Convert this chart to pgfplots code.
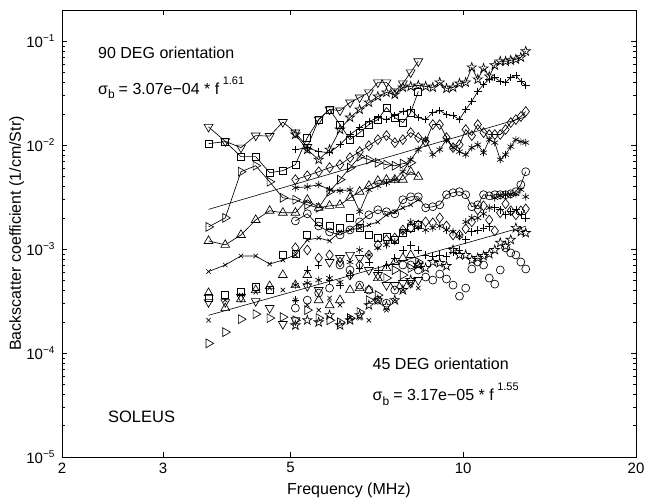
\documentclass[border=0pt]{standalone}
\usepackage{fontspec}
\setmainfont{Liberation Sans}
\usepackage{pgfplots}
\pgfplotsset{compat=1.18}
\usetikzlibrary{plotmarks}
\pgfdeclareplotmark{pentagram}{%
 \pgfpathmoveto{\pgfpointpolar{90}{\pgfplotmarksize}}%
 \pgfpathlineto{\pgfpointpolar{126}{0.382\pgfplotmarksize}}%
 \pgfpathlineto{\pgfpointpolar{162}{\pgfplotmarksize}}%
 \pgfpathlineto{\pgfpointpolar{198}{0.382\pgfplotmarksize}}%
 \pgfpathlineto{\pgfpointpolar{234}{\pgfplotmarksize}}%
 \pgfpathlineto{\pgfpointpolar{270}{0.382\pgfplotmarksize}}%
 \pgfpathlineto{\pgfpointpolar{306}{\pgfplotmarksize}}%
 \pgfpathlineto{\pgfpointpolar{342}{0.382\pgfplotmarksize}}%
 \pgfpathlineto{\pgfpointpolar{18}{\pgfplotmarksize}}%
 \pgfpathlineto{\pgfpointpolar{54}{0.382\pgfplotmarksize}}%
 \pgfpathclose
 \pgfusepathqstroke}
\newcommand\tenexp[1]{10\raisebox{6pt}{\fontsize{10}{10}\selectfont −#1}}
\pgfplotsset{
 U/.style={black, line width=0.65pt, solid},
 L/.style={black, only marks, line width=0.65pt},
 mDn/.style={mark=triangle, mark size=5.1pt, mark options={solid, rotate=180}},
 mUp/.style={mark=triangle, mark size=5.1pt, mark options={solid}},
 mRt/.style={mark=triangle, mark size=5.1pt, mark options={solid, rotate=-90}},
 mSq/.style={mark=square, mark size=3.5pt, mark options={solid}},
 mDi/.style={mark=diamond, mark size=4.9pt, mark options={solid}},
 mCi/.style={mark=o, mark size=4pt, mark options={solid}},
 mX/.style={mark=x, mark size=3.1pt, mark options={solid}},
 mPl/.style={mark=+, mark size=3.8pt, mark options={solid}},
 mAs/.style={mark=asterisk, mark size=3.8pt, mark options={solid}},
 mSt/.style={mark=pentagram, mark size=4.9pt, mark options={solid}},
}
\begin{document}
\begin{tikzpicture}
\useasboundingbox (-62pt,-45pt) rectangle (583pt,457pt);
\begin{axis}[
 at={(0,0)}, anchor=south west, scale only axis, width=574pt, height=447pt,
 xmode=log, ymode=log, xmin=2, xmax=20, ymin=1e-5, ymax=0.2,
 xtick={2,3,5,10,20}, xticklabels={2,3,5,10,20},
 ytick={1e-5,1e-4,1e-3,1e-2,1e-1},
 yticklabels={\tenexp{5},\tenexp{4},\tenexp{3},\tenexp{2},\tenexp{1}},
 tick align=inside, major tick length=5pt, minor tick length=3pt,
 minor x tick style={draw=none},
 axis line style={line width=0.7pt},
 every tick/.style={black, line width=0.5pt},
 tick label style={font=\fontsize{15}{17}\selectfont},
 xticklabel style={yshift=-2pt}, yticklabel style={xshift=-4pt},
 xlabel={Frequency (MHz)}, ylabel={Backscatter coefficient (1/cm/Str)},
 label style={font=\fontsize{16}{19}\selectfont},
 xlabel style={at={(axis description cs:0.5,-0.0738)}, anchor=center},
 ylabel style={at={(axis description cs:-0.079,0.5)}, anchor=center},
]
% ---------------- 90 DEG group (connected) ----------------
\addplot[U, mDn] coordinates {(3.6,0.0150) (3.85,0.0109) (4.1,0.00948) (4.35,0.01238) (4.6,0.01224) (4.85,0.01671) (5.1,0.01323) (5.35,0.00959) (5.6,0.01766) (5.85,0.02206) (6.1,0.02157) (6.35,0.02577) (6.6,0.0288) (6.85,0.0322) (7.1,0.0402) (7.35,0.0402) (7.6,0.0329) (7.85,0.0393) (8.1,0.0502) (8.35,0.0641)};
\addplot[U, mSq] coordinates {(3.6,0.01036) (3.85,0.01083) (4.1,0.00776) (4.35,0.00776) (4.6,0.00544) (4.85,0.00569) (5.1,0.0065) (5.35,0.01184) (5.6,0.01766) (5.85,0.02206) (6.1,0.0158) (6.35,0.01132) (6.6,0.01323) (6.85,0.0158) (7.1,0.01766) (7.35,0.02306) (7.6,0.01846) (7.85,0.01652) (8.1,0.02064) (8.35,0.0329)};
\addplot[U, mRt] coordinates {(3.6,0.001637) (3.85,0.0020) (4.1,0.00556) (4.35,0.00635) (4.6,0.00445) (4.85,0.00312) (5.1,0.00299) (5.35,0.00267) (5.6,0.0025) (5.85,0.00357) (6.1,0.00466) (6.35,0.00608) (6.6,0.00776) (6.85,0.00726) (7.1,0.00679) (7.35,0.0065) (7.6,0.00635) (7.85,0.00664) (8.1,0.00679)};
\addplot[U, mUp] coordinates {(3.6,0.0012) (3.85,0.0011) (4.1,0.00137) (4.35,0.00191) (4.6,0.00234) (4.85,0.00224) (5.1,0.00224) (5.35,0.00299) (5.6,0.0025) (5.85,0.00261) (6.1,0.00267) (6.35,0.00312) (6.6,0.00357) (6.85,0.00407) (7.1,0.00455) (7.35,0.00466) (7.6,0.00466) (7.85,0.00466) (8.1,0.00556) (8.35,0.00498)};
\addplot[U, mX] coordinates {(3.6,0.000609) (3.85,0.000704) (4.1,0.00086) (4.35,0.00086) (4.6,0.000719) (4.85,0.000786) (5.1,0.000879) (5.35,0.001227) (5.6,0.001282) (5.85,0.0012) (6.1,0.001465) (6.35,0.001531) (6.6,0.0016) (6.85,0.00171) (7.1,0.00183) (7.35,0.00214) (7.6,0.00229) (7.85,0.0025) (8.1,0.00267) (8.35,0.00299)};
\addplot[U, mCi] coordinates {(5.1,0.00187) (5.35,0.00219) (5.6,0.00167) (5.85,0.001465) (6.1,0.00137) (6.35,0.00153) (6.6,0.00183) (6.85,0.00214) (7.1,0.00239) (7.35,0.00229) (7.6,0.00219) (7.85,0.00299) (8.1,0.00319) (8.35,0.00319) (8.6,0.0025) (8.85,0.00256) (9.1,0.00267) (9.35,0.00334) (9.6,0.00349) (9.85,0.00357) (10.1,0.00334) (10.35,0.00256) (10.6,0.00267) (10.85,0.00334) (11.1,0.00326) (11.35,0.00334) (11.6,0.00334) (11.85,0.00334) (12.1,0.00341) (12.35,0.00357) (12.6,0.00417) (12.85,0.00556)};
\addplot[U, mDi] coordinates {(5.1,0.00466) (5.35,0.00509) (5.6,0.00556) (5.85,0.00608) (6.1,0.0065) (6.35,0.00759) (6.6,0.00867) (6.85,0.00991) (7.1,0.01132) (7.35,0.01238) (7.6,0.01059) (7.85,0.01132) (8.1,0.01323) (8.35,0.01184) (8.6,0.01083) (8.85,0.0158) (9.1,0.0158) (9.35,0.01184) (9.6,0.00948) (9.85,0.01013) (10.1,0.01414) (10.35,0.01238) (10.6,0.0158) (10.85,0.01323) (11.1,0.01266) (11.35,0.01266) (11.6,0.01266) (11.85,0.01414) (12.1,0.01652) (12.35,0.01766) (12.6,0.01888) (12.85,0.0211)};
\addplot[U, mSt] coordinates {(5.1,0.01266) (5.35,0.00907) (5.6,0.00726) (5.85,0.00907) (6.1,0.01414) (6.35,0.01846) (6.6,0.02206) (6.85,0.02577) (7.1,0.02945) (7.35,0.0322) (7.6,0.03079) (7.85,0.03597) (8.1,0.03678) (8.35,0.03761) (8.6,0.03678) (8.85,0.03597) (9.1,0.0402) (9.35,0.03518) (9.6,0.03597) (9.85,0.0393) (10.1,0.0402) (10.35,0.0561) (10.6,0.043) (10.85,0.0549) (11.1,0.0459) (11.35,0.0587) (11.6,0.0641) (11.85,0.0641) (12.1,0.0656) (12.35,0.067) (12.6,0.0701) (12.85,0.0801)};
\addplot[U, mPl] coordinates {(5.1,0.00907) (5.35,0.00948) (5.6,0.00867) (5.85,0.00848) (6.1,0.01013) (6.35,0.01266) (6.6,0.01478) (6.85,0.0169) (7.1,0.01846) (7.35,0.01766) (7.6,0.01931) (7.85,0.0211) (8.1,0.02206) (8.35,0.01846) (8.6,0.01766) (8.85,0.02064) (9.1,0.02157) (9.35,0.01974) (9.6,0.01931) (9.85,0.01766) (10.1,0.02206) (10.35,0.02635) (10.6,0.0329) (10.85,0.03846) (11.1,0.043) (11.35,0.0449) (11.6,0.0411) (11.85,0.0402) (12.1,0.0449) (12.35,0.047) (12.6,0.0411) (12.85,0.03761)};
\addplot[U, mAs] coordinates {(5.1,0.0039) (5.35,0.00398) (5.6,0.00417) (5.85,0.00373) (6.1,0.00365) (6.35,0.00373) (6.6,0.00229) (6.85,0.00373) (7.1,0.00407) (7.35,0.00435) (7.6,0.00466) (7.85,0.00556) (8.1,0.00726) (8.35,0.00907) (8.6,0.01132) (8.85,0.00812) (9.1,0.00907) (9.35,0.01132) (9.6,0.00948) (9.85,0.00867) (10.1,0.00812) (10.35,0.00948) (10.6,0.01013) (10.85,0.00848) (11.1,0.01132) (11.35,0.01059) (11.6,0.00726) (11.85,0.00812) (12.1,0.00969) (12.35,0.01132) (12.6,0.01083) (12.85,0.01059)};
% ---------------- 45 DEG group (markers) ----------------
\addplot[L, mDn] coordinates {(3.6,3.09e-4) (3.85,3.09e-4) (4.1,3.46e-4) (4.35,3.16e-4) (4.6,2.71e-4) (4.85,1.90e-4) (5.1,2.07e-4) (5.35,4.4e-4) (5.6,4.04e-4) (5.85,7.52e-4) (6.1,8.22e-4) (6.35,8.79e-4) (6.6,8.22e-4) (6.85,6.30e-4) (7.1,5.64e-4) (7.35,4.51e-4) (7.6,4.51e-4) (7.85,4.72e-4) (8.1,4.72e-4) (8.35,5.04e-4)};
\addplot[L, mSq] coordinates {(3.6,3.38e-4) (3.85,3.61e-4) (4.1,3.86e-4) (4.35,4.32e-4) (4.6,4.04e-4) (4.85,8.79e-4) (5.1,8.99e-4) (5.35,1.37e-3) (5.6,1.83e-3) (5.85,1.67e-3) (6.1,1.60e-3) (6.35,2.0e-3) (6.6,1.60e-3) (6.85,1.37e-3) (7.1,1.28e-3) (7.35,1.31e-3) (7.6,1.23e-3) (7.85,1.43e-3) (8.1,1.60e-3) (8.35,1.71e-3)};
\addplot[L, mRt] coordinates {(3.6,1.24e-4) (3.85,1.59e-4) (4.1,2.12e-4) (4.35,2.37e-4) (4.6,2.17e-4) (4.85,2.22e-4) (5.1,2.07e-4) (5.35,2.59e-4) (5.6,2.17e-4) (5.85,2.07e-4) (6.1,1.98e-4) (6.35,2.17e-4) (6.6,2.48e-4) (6.85,3.23e-4) (7.1,3.61e-4) (7.35,5.27e-4) (7.6,6.30e-4) (7.85,5.64e-4) (8.1,6.58e-4) (8.35,7.52e-4)};
\addplot[L, mUp] coordinates {(3.6,3.78e-4) (3.85,2.71e-4) (4.1,3.30e-4) (4.35,4.04e-4) (4.6,4.41e-4) (4.85,5.64e-4) (5.1,4.51e-4) (5.35,5.64e-4) (5.6,3.23e-4) (5.85,2.89e-4) (6.1,3.23e-4) (6.35,4.04e-4) (6.6,4.22e-4) (6.85,4.04e-4) (7.1,5.27e-4) (7.35,6.58e-4) (7.6,7.52e-4) (7.85,8.22e-4) (8.1,8.79e-4) (8.35,7.04e-4)};
\addplot[L, mX] coordinates {(3.6,2.07e-4) (3.85,3.23e-4) (4.1,3.61e-4) (4.35,3.86e-4) (4.6,4.22e-4) (4.85,4.04e-4) (5.1,3.23e-4) (5.35,2.89e-4) (5.6,2.59e-4) (5.85,3.38e-4) (6.1,2.89e-4) (6.35,2.17e-4) (6.6,2.17e-4) (6.85,2.07e-4) (7.1,3.23e-4) (7.35,2.59e-4) (7.6,3.23e-4) (7.85,4.04e-4) (8.1,4.51e-4) (8.35,4.22e-4)};
\addplot[L, mCi] coordinates {(5.1,2.71e-4) (5.35,3.23e-4) (5.6,3.78e-4) (5.85,4.22e-4) (6.1,7.04e-4) (6.35,6.30e-4) (6.6,4.51e-4) (6.85,4.04e-4) (7.1,3.23e-4) (7.35,3.02e-4) (7.6,4.04e-4) (7.85,7.04e-4) (8.1,7.04e-4) (8.35,6.30e-4) (8.6,5.39e-4) (8.85,5.04e-4) (9.1,5.76e-4) (9.35,5.16e-4) (9.6,4.51e-4) (9.85,3.53e-4) (10.1,4.22e-4) (10.35,6.44e-4) (10.6,7.52e-4) (10.85,7.04e-4) (11.1,5.27e-4) (11.35,4.61e-4) (11.6,6.30e-4) (11.85,1.03e-3) (12.1,9.19e-4) (12.35,8.79e-4) (12.6,7.52e-4) (12.85,6.44e-4)};
\addplot[L, mSt] coordinates {(5.1,1.85e-4) (5.35,2.07e-4) (5.6,1.98e-4) (5.85,2.32e-4) (6.1,1.85e-4) (6.35,2.07e-4) (6.6,2.32e-4) (6.85,2.89e-4) (7.1,3.23e-4) (7.35,2.83e-4) (7.6,3.23e-4) (7.85,4.04e-4) (8.1,5.04e-4) (8.35,7.04e-4) (8.6,6.58e-4) (8.85,7.52e-4) (9.1,7.36e-4) (9.35,6.88e-4) (9.6,9.82e-4) (9.85,8.79e-4) (10.1,8.79e-4) (10.35,7.86e-4) (10.6,8.22e-4) (10.85,8.60e-4) (11.1,8.99e-4) (11.35,9.82e-4) (11.6,1.15e-3) (11.85,1.07e-3) (12.1,1.23e-3) (12.35,1.60e-3) (12.6,1.47e-3) (12.85,1.43e-3)};
\addplot[L, mPl] coordinates {(5.1,3.23e-4) (5.35,6.30e-4) (5.6,7.04e-4) (5.85,5.04e-4) (6.1,4.51e-4) (6.35,5.64e-4) (6.6,6.58e-4) (6.85,7.52e-4) (7.1,6.30e-4) (7.35,7.04e-4) (7.6,8.22e-4) (7.85,9.82e-4) (8.1,1.10e-3) (8.35,9.82e-4) (8.6,8.79e-4) (8.85,8.60e-4) (9.1,8.79e-4) (9.35,8.60e-4) (9.6,9.40e-4) (9.85,9.82e-4) (10.1,1.23e-3) (10.35,1.47e-3) (10.6,1.53e-3) (10.85,1.60e-3) (11.1,1.64e-3) (11.35,2.50e-3) (11.6,2.39e-3) (11.85,2.14e-3) (12.1,2.29e-3) (12.35,2.39e-3) (12.6,2.14e-3) (12.85,2.00e-3)};
\addplot[L, mDi] coordinates {(5.1,1.03e-3) (5.35,9.82e-4) (5.6,8.22e-4) (5.85,8.79e-4) (6.1,7.52e-4) (6.35,5.64e-4) (6.6,7.04e-4) (6.85,8.79e-4) (7.1,1.10e-3) (7.35,1.23e-3) (7.6,1.28e-3) (7.85,1.53e-3) (8.1,1.60e-3) (8.35,1.71e-3) (8.6,1.83e-3) (8.85,1.79e-3) (9.1,2.00e-3) (9.35,1.67e-3) (9.6,1.37e-3) (9.85,1.37e-3) (10.1,1.57e-3) (10.35,1.83e-3) (10.6,2.39e-3) (10.85,2.61e-3) (11.1,1.91e-3) (11.35,1.50e-3) (11.6,2.24e-3) (11.85,2.73e-3) (12.1,2.34e-3) (12.35,2.14e-3) (12.6,2.34e-3) (12.85,2.44e-3)};
\addplot[L, mAs] coordinates {(5.1,4.51e-4) (5.35,4.72e-4) (5.6,5.04e-4) (5.85,5.27e-4) (6.1,4.82e-4) (6.35,7.52e-4) (6.6,9.82e-4) (6.85,8.79e-4) (7.1,1.03e-3) (7.35,1.10e-3) (7.6,1.18e-3) (7.85,1.47e-3) (8.1,1.83e-3) (8.35,1.64e-3) (8.6,1.53e-3) (8.85,1.60e-3) (9.1,1.67e-3) (9.35,1.53e-3) (9.6,1.47e-3) (9.85,1.34e-3) (10.1,1.83e-3) (10.35,2.00e-3) (10.6,2.00e-3) (10.85,2.19e-3) (11.1,2.50e-3) (11.35,3.12e-3) (11.6,3.26e-3) (11.85,3.34e-3) (12.1,3.34e-3) (12.35,3.41e-3) (12.6,3.73e-3) (12.85,3.19e-3)};
% ---------------- power-law fits ----------------
\addplot[black, line width=0.6pt] coordinates {(3.6,0.002414) (12.85,0.01872)};
\addplot[black, line width=0.6pt] coordinates {(3.6,2.308e-4) (12.85,1.659e-3)};
% ---------------- annotations ----------------
\node[anchor=base west, inner sep=0, font=\fontsize{16}{19}\selectfont] at (rel axis cs:0.0627,0.8926) {90 DEG orientation};
\node[anchor=base west, inner sep=0, font=\fontsize{16}{19}\selectfont] at (rel axis cs:0.0627,0.811) {σ\raisebox{-4.5pt}{\fontsize{12}{12}\selectfont b}\hspace{4pt}= 3.07e−04 * f\hspace{3.5pt}\raisebox{10pt}{\fontsize{11}{11}\selectfont 1.61}};
\node[anchor=base west, inner sep=0, font=\fontsize{16}{19}\selectfont] at (rel axis cs:0.541,0.1964) {45 DEG orientation};
\node[anchor=base west, inner sep=0, font=\fontsize{16}{19}\selectfont] at (rel axis cs:0.541,0.126) {σ\raisebox{-4.5pt}{\fontsize{12}{12}\selectfont b}\hspace{4pt}= 3.17e−05 * f\hspace{3.5pt}\raisebox{10pt}{\fontsize{11}{11}\selectfont 1.55}};
\node[anchor=base west, inner sep=0, font=\fontsize{16.5}{19}\selectfont] at (rel axis cs:0.080,0.0783) {SOLEUS};
\end{axis}
\end{tikzpicture}
\end{document}
